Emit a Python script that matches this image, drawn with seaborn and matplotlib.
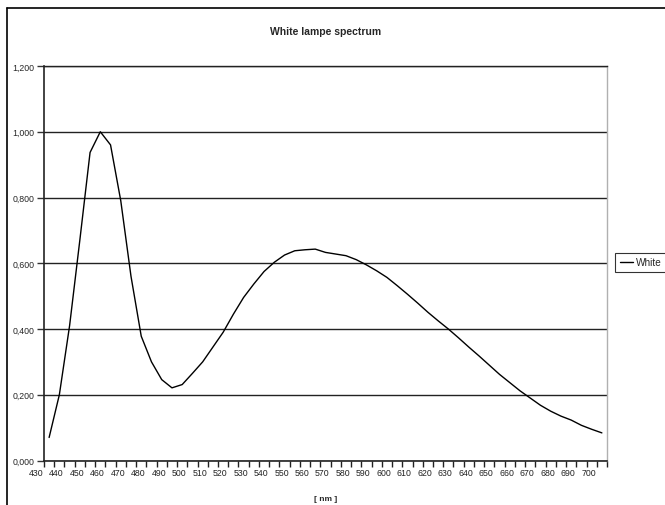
#!/usr/bin/env python3

import numpy as np
import pandas as pd
import seaborn as sns
import matplotlib as mpl
import matplotlib.ticker
import matplotlib.pyplot as plt
from matplotlib.lines import Line2D

sns.set_theme(style="white")
plt.rcParams["font.family"] = ["Liberation Sans", "DejaVu Sans"]
mpl.rcParams["figure.dpi"] = 100

# spectrum (5 nm steps)
wavelength = list(range(435, 710, 5))
intensity = [
    0.070, 0.200, 0.410, 0.670, 0.937, 1.000, 0.960, 0.790, 0.560, 0.378,
    0.300, 0.246, 0.221, 0.231, 0.265, 0.300, 0.345, 0.390, 0.445, 0.496,
    0.537, 0.575, 0.603, 0.625, 0.638, 0.641, 0.643, 0.633, 0.628, 0.623,
    0.611, 0.595, 0.577, 0.557, 0.532, 0.506, 0.479, 0.451, 0.425, 0.400,
    0.373, 0.345, 0.318, 0.290, 0.262, 0.237, 0.212, 0.190, 0.168, 0.150,
    0.135, 0.123, 0.107, 0.095, 0.084,
]
x_labels = list(range(430, 710, 10))
y_ticks = [0.0, 0.2, 0.4, 0.6, 0.8, 1.0, 1.2]

df = pd.DataFrame({"nm": wavelength, "White": intensity})

fig = plt.figure(figsize=(6.65, 5.06))
ax = fig.add_axes([44 / 665, 1 - 461.5 / 506, 563 / 665, 394.5 / 506])

sns.lineplot(ax=ax, data=df, x="nm", y="White", color="black", linewidth=1.0,
             label="White")

ax.set_xlim(432.5, 707.5)
ax.set_ylim(0, 1.2)

# y axis: comma decimals, black grid lines
ax.set_yticks(y_ticks)
ax.yaxis.set_major_formatter(
    matplotlib.ticker.FuncFormatter(lambda v, p: f"{v:.3f}".replace(".", ","))
)
ax.tick_params(axis="y", direction="out", length=5, width=1, color="#333333",
               labelsize=6.3, pad=2, left=True)
ax.grid(axis="y", color="#222222", linewidth=1.0)
ax.set_axisbelow(True)

# x axis: tick marks between categories, labels every 10 nm
ax.set_xticks(np.arange(432.5, 708, 5))
ax.set_xticklabels([])
ax.tick_params(axis="x", direction="out", length=4, width=1, color="#222222",
               bottom=True)
for lab in x_labels:
    ax.text(lab - 1.5, -0.018, str(lab), transform=ax.get_xaxis_transform(),
            ha="center", va="top", fontsize=6.3, color="#222222", clip_on=False)

ax.set_xlabel("[ nm ]", fontsize=6, fontweight="bold", labelpad=17)
ax.set_ylabel("")
ax.set_title("White lampe spectrum", fontsize=7.5, fontweight="bold", pad=23)

for side in ["left", "bottom"]:
    ax.spines[side].set_color("#222222")
    ax.spines[side].set_linewidth(1.2)
ax.spines["top"].set_color("#222222")
ax.spines["top"].set_linewidth(1.0)
ax.spines["right"].set_color("#b0b0b0")
ax.spines["right"].set_linewidth(1.0)

# legend sits at the right edge and is cut off there, as in the reference
leg = ax.legend(loc="upper left", bbox_to_anchor=(613 / 665, 1 - 252 / 506),
                bbox_transform=fig.transFigure, frameon=True, fontsize=7.2,
                handlelength=1.3, handletextpad=0.3, borderpad=0.45,
                borderaxespad=0.2, fancybox=False, edgecolor="black")
leg.get_frame().set_linewidth(0.8)

# chart frame (cut off at right and bottom, like the reference)
fig.add_artist(Line2D([7 / 665, 7 / 665], [0, 1 - 9 / 506], color="black",
                      linewidth=1.2, transform=fig.transFigure))
fig.add_artist(Line2D([7 / 665, 1], [1 - 9 / 506, 1 - 9 / 506], color="black",
                      linewidth=1.2, transform=fig.transFigure))

plt.savefig("out.png", dpi=100)
